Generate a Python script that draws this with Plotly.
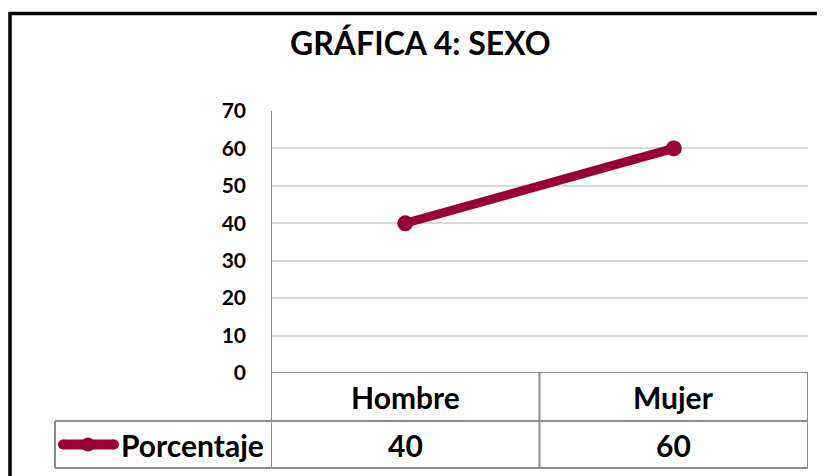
import plotly.graph_objects as go

# ---- data ----
categories = ["Hombre", "Mujer"]
series_name = "Porcentaje"
values = [40, 60]
y_ticks = [0, 10, 20, 30, 40, 50, 60, 70]
title_text = "GRÁFICA 4: SEXO"

W, H = 825, 476
OFF_X, OFF_Y = 8, 8   # page body margin compensation
LINE_COLOR = "#990033"
GRID = "#D9D9D9"
TABLE = "#8C8C8C"
FONT = "Lato"

def px(x):
    return (x - OFF_X) / W

def py(y):
    return (H - (y - OFF_Y)) / H

plot_left, plot_right = 271, 808
plot_top, plot_bottom = 111, 373
row1_bottom, row2_bottom = 421, 468
legend_left = 55

fig = go.Figure()
fig.add_trace(go.Scatter(
    x=categories, y=values, mode="lines+markers", name=series_name,
    line=dict(color=LINE_COLOR, width=9),
    marker=dict(color=LINE_COLOR, size=16),
    showlegend=False, cliponaxis=False,
))

shapes = []
shapes.append(dict(type="rect", xref="paper", yref="paper",
                   x0=px(10), x1=px(W + 40), y0=py(H + 40), y1=py(13.5),
                   line=dict(color="black", width=3.5)))
shapes.append(dict(type="line", xref="x", yref="paper", x0=-0.5, x1=-0.5,
                   y0=py(row2_bottom), y1=py(plot_top),
                   line=dict(color=TABLE, width=2)))
shapes.append(dict(type="line", xref="x", yref="y", x0=-0.5, x1=1.5, y0=0, y1=0,
                   line=dict(color=TABLE, width=2)))
for xv in [0.5, 1.5]:
    shapes.append(dict(type="line", xref="x", yref="paper", x0=xv, x1=xv,
                       y0=py(row2_bottom), y1=py(plot_bottom),
                       line=dict(color=TABLE, width=2)))
for yv in [row1_bottom, row2_bottom]:
    shapes.append(dict(type="line", xref="paper", yref="paper",
                       x0=px(legend_left), x1=px(plot_right), y0=py(yv), y1=py(yv),
                       line=dict(color=TABLE, width=2)))
shapes.append(dict(type="line", xref="paper", yref="paper",
                   x0=px(legend_left), x1=px(legend_left),
                   y0=py(row2_bottom), y1=py(row1_bottom),
                   line=dict(color=TABLE, width=2)))
ky = (row1_bottom + row2_bottom) / 2
shapes.append(dict(type="line", xref="paper", yref="paper",
                   x0=px(63), x1=px(114), y0=py(ky), y1=py(ky),
                   line=dict(color=LINE_COLOR, width=10)))
shapes.append(dict(type="circle", xref="paper", yref="paper",
                   x0=px(81), x1=px(95), y0=py(ky + 7), y1=py(ky - 7),
                   fillcolor=LINE_COLOR, line=dict(color=LINE_COLOR, width=0)))
for cx in (63, 114):
    shapes.append(dict(type="circle", xref="paper", yref="paper",
                       x0=px(cx - 5), x1=px(cx + 5), y0=py(ky + 5), y1=py(ky - 5),
                       fillcolor=LINE_COLOR, line=dict(color=LINE_COLOR, width=0)))

annotations = []
annotations.append(dict(text=title_text, xref="paper", yref="paper",
                        x=px(420), y=py(43), showarrow=False,
                        xanchor="center", yanchor="middle",
                        font=dict(family=FONT, size=32, color="black", weight="bold")))
r1y = (plot_bottom + row1_bottom) / 2
for c in categories:
    annotations.append(dict(text=c, xref="x", yref="paper", x=c, y=py(r1y),
                            showarrow=False, xanchor="center", yanchor="middle",
                            font=dict(family=FONT, size=30, color="black", weight="bold")))
for c, v in zip(categories, values):
    annotations.append(dict(text=str(v), xref="x", yref="paper", x=c, y=py(ky),
                            showarrow=False, xanchor="center", yanchor="middle",
                            font=dict(family=FONT, size=30, color="black", weight="bold")))
annotations.append(dict(text=series_name, xref="paper", yref="paper",
                        x=px(119), y=py(ky), showarrow=False,
                        xanchor="left", yanchor="middle",
                        font=dict(family=FONT, size=30, color="black", weight="bold")))

fig.update_layout(
    width=W, height=H, margin=dict(l=0, r=0, t=0, b=0, pad=0), autosize=False,
    paper_bgcolor="white", plot_bgcolor="white", showlegend=False,
    xaxis=dict(domain=[px(plot_left), px(plot_right)], type="category",
               range=[-0.5, 1.5], showticklabels=False, showgrid=False,
               zeroline=False, showline=False, fixedrange=True, automargin=False),
    yaxis=dict(domain=[py(plot_bottom), py(plot_top)], range=[0, 70],
               tickvals=y_ticks, ticks="", showgrid=True, gridcolor=GRID,
               gridwidth=2, zeroline=False, showline=False, automargin=False,
               ticklabelstandoff=24,
               tickfont=dict(family=FONT, size=21, color="black", weight="bold")),
    shapes=shapes, annotations=annotations,
)

fig.write_html("out.html")
